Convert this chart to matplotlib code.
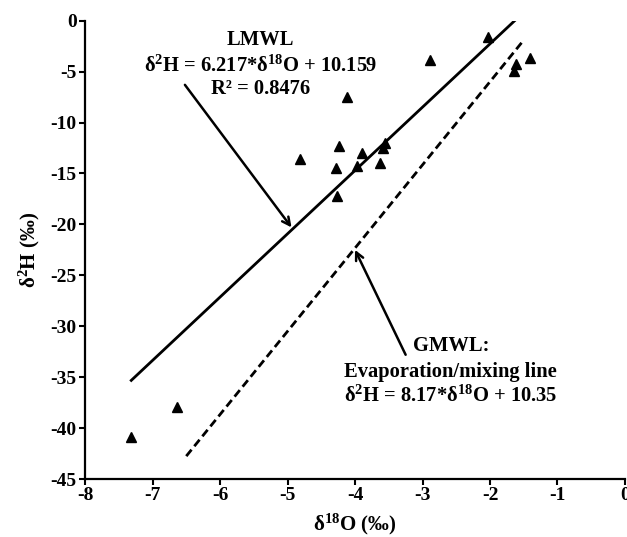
import numpy as np
import matplotlib
matplotlib.use("Agg")
import matplotlib.pyplot as plt

plt.rcParams['font.family'] = ['Liberation Serif', 'DejaVu Serif']
plt.rcParams['font.weight'] = 'bold'
plt.rcParams['axes.unicode_minus'] = False
plt.rcParams['mathtext.fontset'] = 'custom'
plt.rcParams['mathtext.rm'] = 'Liberation Serif:bold'
plt.rcParams['mathtext.it'] = 'Liberation Serif:bold:italic'
plt.rcParams['mathtext.bf'] = 'Liberation Serif:bold'
plt.rcParams['mathtext.default'] = 'rm'

# samples (delta18O, delta2H)
d18O = [-2.03, -2.89, -1.41, -1.62, -1.65, -4.12, -4.23, -3.89, -3.56, -3.59,
        -4.28, -3.97, -3.63, -4.26, -4.82, -7.32, -6.64]
d2H = [-1.6, -3.9, -3.7, -4.3, -4.9, -7.5, -12.3, -13.0, -12.0, -12.5,
       -14.5, -14.3, -14.0, -17.2, -13.6, -40.9, -37.9]

# regression lines
lmwl_slope, lmwl_icpt = 6.217, 10.159
lmwl_x = [-7.33, -1.62]
gmwl_slope, gmwl_icpt = 8.17, 10.35
gmwl_x = [-6.5, -1.5]

xticks = [-8, -7, -6, -5, -4, -3, -2, -1, 0]
yticks = [0, -5, -10, -15, -20, -25, -30, -35, -40, -45]

fig = plt.figure(figsize=(6.27, 5.37), dpi=100)
ax = fig.add_axes([0.1356, 0.108, 0.8612, 0.8535])

lx = np.array(lmwl_x)
gx = np.array(gmwl_x)
ax.plot(lx, lmwl_slope * lx + lmwl_icpt, color='black', lw=2, solid_capstyle='butt')
ax.plot(gx, gmwl_slope * gx + gmwl_icpt, color='black', lw=2, ls=(0, (3, 1.6)))
ax.plot(d18O, d2H, ls='none', marker='^', ms=7.5, color='black', clip_on=False)

ax.set_xlim(-8, 0)
ax.set_ylim(-45, 0)
ax.set_xticks(xticks)
ax.set_yticks(yticks)
for s in ['top', 'right']:
    ax.spines[s].set_visible(False)
for s in ['left', 'bottom']:
    ax.spines[s].set_linewidth(1.6)
ax.tick_params(direction='out', length=4, width=1.5, labelsize=14, pad=2)
for lab in ax.get_xticklabels() + ax.get_yticklabels():
    lab.set_fontweight('bold')

ax.set_xlabel(r'δ$^{18}$O (‰)', fontsize=15, fontweight='bold', labelpad=5)
ax.set_ylabel(r'δ$^{2}$H (‰)', fontsize=15, fontweight='bold', labelpad=6)

fs = 14.8
ax.text(-5.40, -1.9, 'LMWL', ha='center', va='center', fontsize=fs, fontweight='bold')
ax.text(-5.40, -4.45, r'δ$^{2}$H = 6.217*δ$^{18}$O + 10.159', ha='center', va='center',
        fontsize=fs, fontweight='bold')
ax.text(-5.40, -6.7, 'R² = 0.8476', ha='center', va='center', fontsize=fs, fontweight='bold')

ax.text(-2.58, -31.96, 'GMWL:', ha='center', va='center', fontsize=fs, fontweight='bold')
ax.text(-2.58, -34.5, 'Evaporation/mixing line', ha='center', va='center', fontsize=fs,
        fontweight='bold')
ax.text(-2.58, -36.9, r'δ$^{2}$H = 8.17*δ$^{18}$O + 10.35', ha='center', va='center',
        fontsize=fs, fontweight='bold')

ax.annotate('', xy=(-4.94, -20.3), xytext=(-6.52, -6.3),
            arrowprops=dict(arrowstyle='->', lw=1.8, color='black', mutation_scale=14,
                            shrinkA=0, shrinkB=0))
ax.annotate('', xy=(-4.0, -22.5), xytext=(-3.25, -32.8),
            arrowprops=dict(arrowstyle='->', lw=1.8, color='black', mutation_scale=14,
                            shrinkA=0, shrinkB=0))

fig.savefig('out.png', dpi=100)
